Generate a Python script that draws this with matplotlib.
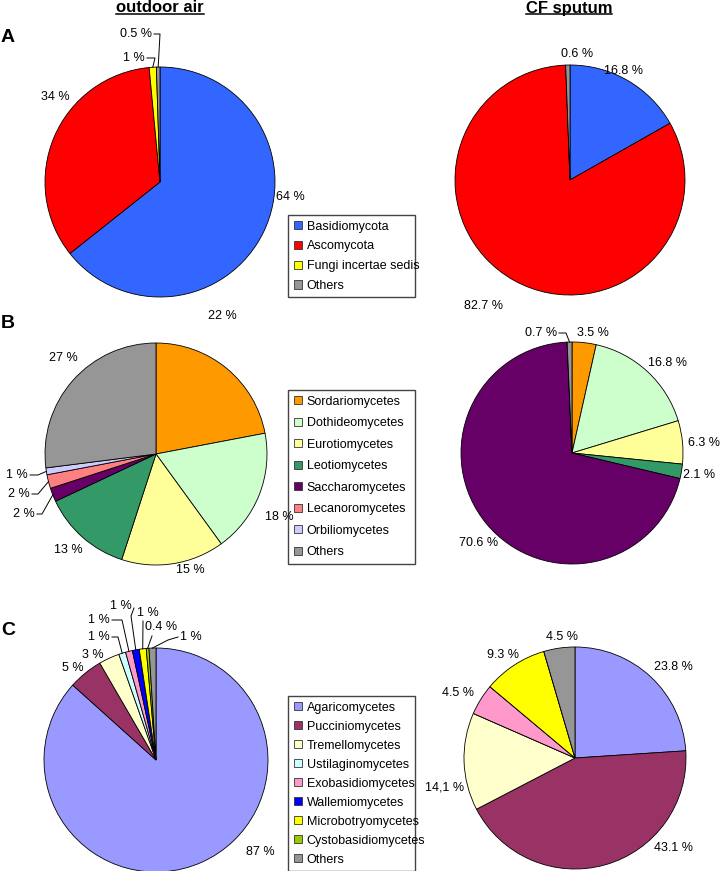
import math
import matplotlib
matplotlib.use("Agg")
import matplotlib.pyplot as plt
from matplotlib.patches import Patch
from matplotlib.lines import Line2D

plt.rcParams['font.family'] = ['Liberation Sans', 'DejaVu Sans']

# ---- data ----
phyla = ["Basidiomycota", "Ascomycota", "Fungi incertae sedis", "Others"]
phyla_colors = ["#3366FF", "#FF0000", "#FFFF00", "#969696"]
phyla_air = [64, 34, 1, 0.5]
phyla_air_lbl = ["64 %", "34 %", "1 %", "0.5 %"]
phyla_cf = [16.8, 82.7, 0, 0.6]
phyla_cf_lbl = ["16.8 %", "82.7 %", "", "0.6 %"]

asco = ["Sordariomycetes", "Dothideomycetes", "Eurotiomycetes", "Leotiomycetes",
        "Saccharomycetes", "Lecanoromycetes", "Orbiliomycetes", "Others"]
asco_colors = ["#FF9900", "#CCFFCC", "#FFFF99", "#339966",
               "#660066", "#FF8080", "#CCCCFF", "#969696"]
asco_air = [22, 18, 15, 13, 2, 2, 1, 27]
asco_air_lbl = ["22 %", "18 %", "15 %", "13 %", "2 %", "2 %", "1 %", "27 %"]
asco_cf = [3.5, 16.8, 6.3, 2.1, 70.6, 0, 0, 0.7]
asco_cf_lbl = ["3.5 %", "16.8 %", "6.3 %", "2.1 %", "70.6 %", "", "", "0.7 %"]

basidio = ["Agaricomycetes", "Pucciniomycetes", "Tremellomycetes", "Ustilaginomycetes",
           "Exobasidiomycetes", "Wallemiomycetes", "Microbotryomycetes",
           "Cystobasidiomycetes", "Others"]
basidio_colors = ["#9999FF", "#993366", "#FFFFCC", "#CCFFFF", "#FF99CC",
                  "#0000FF", "#FFFF00", "#99CC00", "#969696"]
basidio_air = [87, 5, 3, 1, 1, 1, 1, 0.4, 1]
basidio_air_lbl = ["87 %", "5 %", "3 %", "1 %", "1 %", "1 %", "1 %", "0.4 %", "1 %"]
basidio_cf = [23.8, 43.1, 14.1, 0, 4.5, 0, 9.3, 0, 4.5]
basidio_cf_lbl = ["23.8 %", "43.1 %", "14,1 %", "", "4.5 %", "", "9.3 %", "", "4.5 %"]

W, H = 720, 871
fig = plt.figure(figsize=(W / 100, H / 100), dpi=100)


def pie(cx, cy, r, vals, colors, labels, pos):
    # pos: index -> (px, py, ha, leader pixel points or None)
    ax = fig.add_axes([(cx - r) / W, 1 - (cy + r) / H, 2 * r / W, 2 * r / H])
    wedges, _ = ax.pie(vals, colors=colors, startangle=90, counterclock=False,
                       wedgeprops=dict(edgecolor="black", linewidth=0.6))
    ax.set_xlim(-1, 1)
    ax.set_ylim(-1, 1)
    for i, (px, py, ha, lead) in pos.items():
        x, y = (px - cx) / r, (cy - py) / r
        ax.text(x, y, labels[i], ha=ha, va="center", fontsize=9, clip_on=False)
        if lead:
            w = wedges[i]
            th = math.radians((w.theta1 + w.theta2) / 2)
            xs = [(p[0] - cx) / r for p in lead] + [math.cos(th)]
            ys = [(cy - p[1]) / r for p in lead] + [math.sin(th)]
            ax.plot(xs, ys, color="black", lw=0.7, clip_on=False)
    return ax


# A
pie(160, 182, 115, phyla_air, phyla_colors, phyla_air_lbl, {
    0: (290, 197, "center", None),
    1: (55, 97, "center", None),
    2: (145, 58, "right", [(147, 58), (155, 58)]),
    3: (152, 34, "right", [(154, 34), (160, 34)]),
})
pie(570, 180, 115, phyla_cf, phyla_colors, phyla_cf_lbl, {
    0: (623, 71, "center", None),
    1: (483, 306, "center", None),
    3: (577, 54, "center", None),
})

# B
pie(156, 454, 111, asco_air, asco_colors, asco_air_lbl, {
    0: (222, 316, "center", None),
    1: (279, 517, "center", None),
    2: (190, 570, "center", None),
    3: (68, 550, "center", None),
    4: (35, 514, "right", [(37, 514), (42, 514)]),
    5: (30, 494, "right", [(32, 494), (38, 494)]),
    6: (28, 475, "right", [(30, 475), (38, 475)]),
    7: (63, 358, "center", None),
})
pie(572, 453, 111, asco_cf, asco_colors, asco_cf_lbl, {
    0: (577, 333, "left", None),
    1: (668, 363, "center", None),
    2: (704, 443, "center", None),
    3: (699, 475, "center", None),
    4: (479, 543, "center", None),
    7: (557, 333, "right", [(559, 333), (566, 333)]),
})

# C
pie(156, 760, 112, basidio_air, basidio_colors, basidio_air_lbl, {
    0: (260, 852, "center", None),
    1: (73, 668, "center", None),
    2: (93, 655, "center", None),
    3: (110, 637, "right", [(112, 637), (118, 637)]),
    4: (110, 620, "right", [(112, 620), (122, 620)]),
    5: (132, 606, "right", [(134, 608), (131, 616)]),
    6: (148, 613, "center", [(143, 621)]),
    7: (161, 627, "center", [(152, 636)]),
    8: (180, 637, "left", [(178, 637), (168, 640)]),
})
pie(575, 758, 111, basidio_cf, basidio_colors, basidio_cf_lbl, {
    0: (673, 667, "center", None),
    1: (673, 848, "center", None),
    2: (445, 787, "center", None),
    4: (458, 693, "center", None),
    6: (503, 655, "center", None),
    8: (562, 637, "center", None),
})


def legend(names, colors, top, spacing):
    hs = [Patch(facecolor=c, edgecolor="#333333", linewidth=0.6) for c in colors]
    leg = fig.legend(hs, names, loc="upper left", mode="expand",
                     bbox_to_anchor=(288 / W, 1 - (top + 10) / H, 127 / W, 10 / H),
                     fontsize=9, handlelength=0.65, handleheight=0.65, handletextpad=0.4,
                     labelspacing=spacing, borderpad=0.45, borderaxespad=0,
                     fancybox=False, edgecolor="#444444", framealpha=1)
    leg.set_zorder(-1)


legend(phyla, phyla_colors, 215, 0.62)
legend(asco, asco_colors, 390, 0.76)
legend(basidio, basidio_colors, 696, 0.56)

# titles and panel letters
titles = []
for x, s in [(160, "outdoor air"), (569, "CF sputum")]:
    titles.append(fig.text(x / W, 1 - 8 / H, s, ha="center", va="center",
                           fontsize=12, fontweight="bold"))
for y, s in [(38, "A"), (323, "B"), (630, "C")]:
    fig.text(1 / W, 1 - y / H, s, ha="left", va="center", fontsize=14, fontweight="bold")

fig.canvas.draw()
rend = fig.canvas.get_renderer()
for t in titles:
    bb = t.get_window_extent(rend)
    yy = (bb.y0 + 1) / H
    fig.add_artist(Line2D([bb.x0 / W, bb.x1 / W], [yy, yy], color="black", lw=1.1))

fig.savefig("out.png", dpi=100, facecolor="white")
